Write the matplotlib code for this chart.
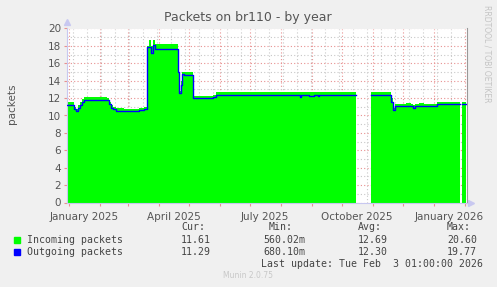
"""Munin yearly packets graph for br110, redrawn with matplotlib."""

import matplotlib

matplotlib.use("Agg")
import matplotlib.dates as mdates
import matplotlib.pyplot as plt
import matplotlib.transforms as mtransforms
import numpy as np
import pandas as pd

# change points (packets per second), drawn as steps
dates = [
    "2024-12-30", "2025-01-04", "2025-01-06", "2025-01-08", "2025-01-10",
    "2025-01-12", "2025-01-14", "2025-01-16", "2025-02-08", "2025-02-10",
    "2025-02-12", "2025-02-14", "2025-02-17", "2025-02-25", "2025-03-12",
    "2025-03-17", "2025-03-20", "2025-03-22", "2025-03-24", "2025-03-26",
    "2025-03-28", "2025-04-19", "2025-04-20", "2025-04-21", "2025-04-23",
    "2025-04-24", "2025-04-26", "2025-05-05", "2025-05-25", "2025-05-28",
    "2025-08-20", "2025-08-21", "2025-08-29", "2025-09-03", "2025-09-07",
    "2025-09-08", "2025-10-15", "2025-10-15", "2025-10-30", "2025-11-19",
    "2025-11-21", "2025-11-23", "2025-12-04", "2025-12-09", "2025-12-11",
    "2025-12-13", "2025-12-17", "2025-12-22", "2026-01-04", "2026-01-27",
    "2026-01-27", "2026-01-29", "2026-02-02",
]
incoming = [
    11.6, 11.5, 11.0, 10.8, 11.2,
    11.5, 11.9, 12.1, 12.0, 11.6,
    11.2, 11.0, 10.85, 10.8, 10.9,
    11.0, 18.0, 18.7, 18.0, 18.7,
    18.2, 18.2, 15.5, 12.8, 14.0,
    15.0, 15.0, 12.2, 12.4, 12.7,
    12.7, 12.7, 12.7, 12.7, 12.7,
    12.7, 12.7, np.nan, 12.7, 12.0,
    10.9, 11.3, 11.4, 11.3, 11.2,
    11.3, 11.4, 11.3, 11.6, 11.6,
    np.nan, 11.6, 11.6,
]
outgoing = [
    11.2, 11.2, 10.8, 10.55, 10.9,
    11.2, 11.6, 11.8, 11.75, 11.3,
    10.9, 10.7, 10.55, 10.5, 10.6,
    10.7, 17.9, 17.9, 17.2, 18.1,
    17.6, 17.6, 15.0, 12.6, 13.5,
    14.8, 14.6, 12.0, 12.1, 12.35,
    12.15, 12.3, 12.25, 12.3, 12.2,
    12.3, 12.3, np.nan, 12.3, 11.5,
    10.6, 11.1, 11.1, 11.05, 10.9,
    11.05, 11.1, 11.05, 11.3, 11.3,
    np.nan, 11.3, 11.3,
]

legend_rows = [
    ("Incoming packets", "#00FF00", "11.61", "560.02m", "12.69", "20.60"),
    ("Outgoing packets", "#0000FF", "11.29", "680.10m", "12.30", "19.77"),
]
label_months = ["2025-01", "2025-04", "2025-07", "2025-10", "2026-01"]
label_text = ["January 2025", "April 2025", "July 2025", "October 2025", "January 2026"]

t = pd.to_datetime(dates)
t_start = pd.Timestamp("2024-12-30 01:00")
t_end = pd.Timestamp("2026-02-03 01:00")

fig = plt.figure(figsize=(4.97, 2.87), dpi=100, facecolor="#F0F0F0")
ax = fig.add_axes([66.7 / 497, 1 - 202.5 / 287, 400 / 497, 174 / 287])
ax.set_facecolor("white")

ax.fill_between(t, 0, incoming, step="post", color="#00FF00", linewidth=0, zorder=2)
ax.plot(t, outgoing, drawstyle="steps-post", color="#0000FF", lw=1.0, zorder=3)

ax.set_xlim(t_start, t_end)
ax.set_ylim(0, 20)

# grids: red dotted major, gray dotted minor
ax.xaxis.set_major_locator(mdates.MonthLocator())
ax.xaxis.set_minor_locator(mdates.WeekdayLocator(byweekday=mdates.SU, interval=2))
ax.xaxis.set_major_formatter(plt.NullFormatter())
ax.set_yticks(np.arange(0, 21, 2))
ax.set_yticks(np.arange(0, 21, 1), minor=True)
ax.grid(which="major", color="#E89090", linestyle=(0, (1, 2)), lw=0.8, zorder=4)
ax.grid(which="minor", color="#C8C8C8", linestyle=(0, (1, 2)), lw=0.8, zorder=4)
ax.tick_params(axis="x", which="major", length=2, color="#E89090", pad=2)
ax.tick_params(axis="x", which="minor", length=0)
ax.tick_params(axis="y", which="major", length=2, color="#E89090", labelsize=7.5,
               labelcolor="#555555", pad=2)
ax.tick_params(axis="y", which="minor", length=0)

for side in ["left", "bottom"]:
    ax.spines[side].set_color("#C8C8F0")
ax.spines["top"].set_visible(False)
ax.spines["right"].set_color("#999999")
ax.plot([0], [1.04], marker="^", color="#C8C8F0", ms=4, transform=ax.transAxes, clip_on=False)
ax.plot([1.01], [0], marker=">", color="#C8C8F0", ms=4, transform=ax.transAxes, clip_on=False)

# month labels are centred mid-month, as rrdtool does
trans = mtransforms.blended_transform_factory(ax.transData, ax.transAxes)
for m, text in zip(label_months, label_text):
    mid = pd.Timestamp(m + "-01") + pd.Timedelta(days=15)
    ax.text(mid, -0.055, text, transform=trans, ha="center", va="top",
            fontsize=7.5, color="#555555")

fig.text(248 / 497, 1 - 18 / 287, "Packets on br110 - by year", ha="center",
         va="center", fontsize=9, color="#555555")
fig.text(12 / 497, 1 - 104 / 287, "packets", rotation=90, ha="center",
         va="center", fontsize=7.5, color="#555555")
fig.text(487 / 497, 1 - 5 / 287, "RRDTOOL / TOBI OETIKER", rotation=270,
         ha="center", va="top", fontsize=5.5, color="#C4C4C4")

mono = dict(family="DejaVu Sans Mono", fontsize=7.1, color="#444444", va="center")
cols = [181, 263, 358, 447]
for x, head in zip(cols, ["Cur:", "Min:", "Avg:", "Max:"]):
    fig.text((x + (6 if head == "Min:" else 0)) / 497, 1 - 227.5 / 287, head, **mono)
for i, (name, color, cur, vmin, avg, vmax) in enumerate(legend_rows):
    y = 1 - (240 + 12 * i) / 287
    fig.patches.append(plt.Rectangle((14 / 497, y - 3 / 287), 6 / 497, 6 / 287,
                                     transform=fig.transFigure, color=color))
    fig.text(26.7 / 497, y, name, **mono)
    for x, val in zip(cols, [cur, vmin, avg, vmax]):
        fig.text(x / 497, y, val, **mono)
fig.text(483 / 497, 1 - 264 / 287, "Last update: Tue Feb  3 01:00:00 2026",
         ha="right", **mono)
fig.text(248 / 497, 1 - 276 / 287, "Munin 2.0.75", ha="center", va="center",
         fontsize=5.5, color="#C8C8C8")

fig.savefig("out.png", dpi=100, facecolor=fig.get_facecolor())
